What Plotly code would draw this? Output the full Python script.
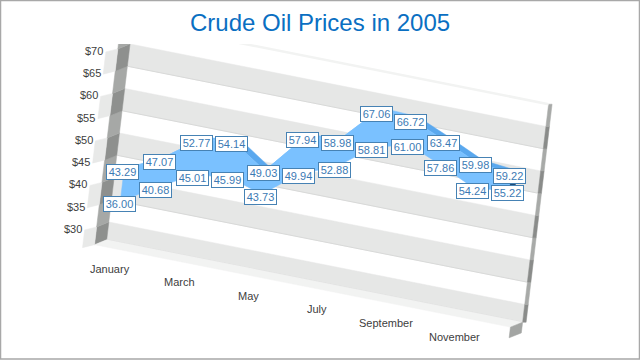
import plotly.graph_objects as go

title = "Crude Oil Prices in 2005"
months = ["January","February","March","April","May","June","July","August","September","October","November","December"]
high = [43.29,47.07,52.77,54.14,49.03,57.94,58.98,67.06,66.72,63.47,59.98,59.22]
low = [36.00,40.68,45.01,45.99,43.73,49.94,52.88,58.81,61.00,57.86,54.24,55.22]
ticks = [30,35,40,45,50,55,60,65,70]
band_edges = [26,30,35,40,45,50,55,60,65,70,75]

ML, MR = -0.56, 11.53

def P(m, v, d=0.0):
    return (100 + 0.53*v + 34.4*m + 12.2*d, 364.2 - 4.45*v + 6.82*m - 4.9*d)

fig = go.Figure()

def poly(pts, fill, line=None):
    xs = [p[0] for p in pts] + [pts[0][0]]
    ys = [p[1] for p in pts] + [pts[0][1]]
    fig.add_trace(go.Scatter(x=xs, y=ys, mode="lines", fill="toself", fillcolor=fill,
                             line=dict(color=line or fill, width=0.5 if line is None else 1),
                             hoverinfo="skip", showlegend=False))

def seg(a, b, color, width=1):
    fig.add_trace(go.Scatter(x=[a[0], b[0]], y=[a[1], b[1]], mode="lines",
                             line=dict(color=color, width=width), hoverinfo="skip", showlegend=False))

STUB = (-12, 3)
def stub(p):
    return (p[0] + STUB[0], p[1] + STUB[1])

# walls
for i in range(len(band_edges) - 1):
    v0, v1 = band_edges[i], band_edges[i+1]
    gray = i % 2 == 0
    if gray:
        poly([P(ML,v0,1), P(MR,v0,1), P(MR,v1,1), P(ML,v1,1)], "#e6e7e6")
        seg(P(ML,v0,1), P(MR,v0,1), "#d8d9d8")
    poly([P(ML,v0,0), P(ML,v0,1), P(ML,v1,1), P(ML,v1,0)], "#8e908e" if gray else "#a6a8a6")
    poly([P(MR,v0,1), (P(MR,v0,1)[0]+3.5, P(MR,v0,1)[1]), (P(MR,v1,1)[0]+3.5, P(MR,v1,1)[1]), P(MR,v1,1)],
         "#8a8c8a" if gray else "#a8aaa8")
    if i % 2 == 0 and v1 <= 70:
        poly([stub(P(ML,v0,0)), P(ML,v0,0), P(ML,v1,0), stub(P(ML,v1,0))], "#e8e9e8")
seg(P(ML,75,1), P(MR,75,1), "#f2f3f2", 2.5)
poly([P(ML,26,0), P(MR,26,0), P(MR,26,1), P(ML,26,1)], "#f2f3f2")
poly([P(MR,26,0), P(MR,26,1), P(MR,23.6,1), P(MR,23.6,0)], "#a3a5a3")

# area
LIFT = 2.2
def A(m, v, d):
    x, y = P(m, v, d)
    return (x, y - LIFT)

DF, DB = 0.1, 0.6
n = len(months)
poly([A(n-1,high[-1],DF), A(n-1,low[-1],DF), A(n-1,low[-1],DB), A(n-1,high[-1],DB)], "#1f4a75")
for i in range(n-1):
    slope_down = (A(i+1,high[i+1],DF)[1]-A(i,high[i],DF)[1]) > 0.3*(A(i+1,high[i+1],DF)[0]-A(i,high[i],DF)[0])
    poly([A(i,high[i],DF), A(i+1,high[i+1],DF), A(i+1,high[i+1],DB), A(i,high[i],DB)],
         "#5aa8ee" if slope_down else "#7ac1ff")
poly([A(i,high[i],DF) for i in range(n)] + [A(i,low[i],DF) for i in range(n-1,-1,-1)], "#7ac1ff")

ann = []
def label(v, m):
    x, y = P(m, v, 0)
    ann.append(dict(x=x, y=y, xref="x", yref="y", text=f"{v:.2f}", showarrow=False,
                    font=dict(family="Liberation Sans", size=11, color="#3c7ab4"),
                    bgcolor="#ffffff", bordercolor="#4682b4", borderwidth=1, borderpad=0,
                    width=31, height=14, align="center", valign="middle"))
for i in range(n):
    label(low[i], i)
    label(high[i], i)

for t in ticks:
    x, y = P(ML, t, 0)
    ann.append(dict(x=x-12.5, y=y+2, xref="x", yref="y", text=f"${t}", showarrow=False, xanchor="right",
                    font=dict(family="Liberation Sans", size=11, color="#404040")))
for i in range(0, n, 2):
    x, y = P(i, 21.5, 0)
    ann.append(dict(x=x-1, y=y, xref="x", yref="y", text=months[i], showarrow=False,
                    font=dict(family="Liberation Sans", size=11, color="#404040")))
ann.append(dict(x=320, y=22, xref="x", yref="y", text=title, showarrow=False,
                font=dict(family="Liberation Sans", size=24, color="#0a6fc2")))

fig.update_layout(
    width=640, height=360, margin=dict(l=0, r=0, t=0, b=0), autosize=False,
    paper_bgcolor="#ffffff", plot_bgcolor="#ffffff", showlegend=False,
    xaxis=dict(range=[0,640], visible=False, fixedrange=True),
    yaxis=dict(range=[360,0], visible=False, fixedrange=True),
    annotations=ann,
    shapes=[dict(type="rect", xref="x", yref="y", x0=0, x1=640, y0=0, y1=44, fillcolor="#ffffff",
                 line=dict(width=0), layer="above"),
            dict(type="rect", xref="x", yref="y", x0=0.5, x1=639.5, y0=0.5, y1=359, fillcolor="rgba(0,0,0,0)",
                 line=dict(color="#a8a8a8", width=1.5), layer="above")],
)
fig.write_html("out.html", config=dict(displayModeBar=False),
               post_script="document.body.style.margin='0';document.documentElement.style.overflow='hidden';")
